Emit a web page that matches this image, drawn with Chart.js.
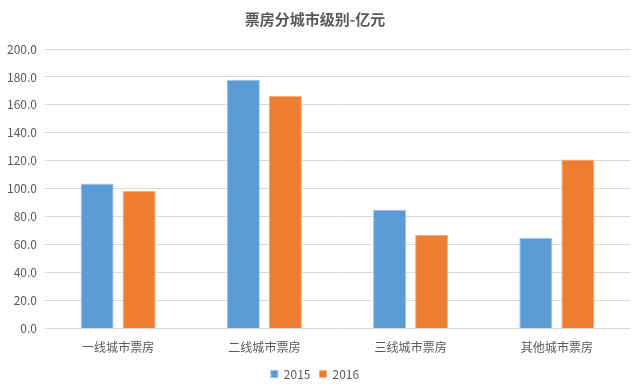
<!DOCTYPE html>
<html><head><meta charset="utf-8">
<script src="https://cdn.jsdelivr.net/npm/chart.js@4"></script>
<style>html,body{margin:0;padding:0;background:#fff}#w{width:640px;height:390px}</style>
</head><body><div id="w"><canvas id="c"></canvas></div>
<script>
const categories = ["一线城市票房", "二线城市票房", "三线城市票房", "其他城市票房"];
const series2015 = [103.8, 178, 85, 65];
const series2016 = [98.5, 166.3, 67, 121];
const seriesNames = ["2015", "2016"];
const yTicks = {min: 0, max: 200, step: 20};
const FONT = "'Noto Sans CJK SC', 'Noto Sans', sans-serif";
Chart.defaults.font.family = FONT;
Chart.defaults.color = '#595959';
new Chart(document.getElementById('c'), {
  type: 'bar',
  data: {
    labels: categories,
    datasets: [
      {label: seriesNames[0], data: series2015, backgroundColor: '#5B9BD5', borderColor: '#9DC3E6', borderWidth: 1, categoryPercentage: 0.575, barPercentage: 0.786},
      {label: seriesNames[1], data: series2016, backgroundColor: '#ED7D31', borderColor: '#F4B183', borderWidth: 1, categoryPercentage: 0.575, barPercentage: 0.786}
    ]
  },
  options: {
    responsive: true, maintainAspectRatio: false, animation: false,
    layout: {padding: {left: 0, right: 10, top: 4, bottom: 0}},
    plugins: {
      title: {display: true, text: '票房分城市级别-亿元', color: '#595959', font: {size: 15, weight: 'bold', family: FONT}, padding: {top: 6, bottom: 21}},
      legend: {position: 'bottom', labels: {boxWidth: 7, boxHeight: 7, color: '#595959', font: {size: 12}, padding: 9}},
      tooltip: {enabled: false}
    },
    scales: {
      x: {grid: {display: false}, border: {display: false}, ticks: {color: '#595959', font: {size: 12}, padding: 4}},
      y: {min: yTicks.min, max: yTicks.max, ticks: {stepSize: yTicks.step, color: '#595959', font: {size: 12}, padding: 8, callback: v => v.toFixed(1)},
          grid: {color: '#D9D9D9', lineWidth: 1, drawTicks: false}, border: {display: false},
          afterFit: s => { s.width = 45; }}
    }
  }
});
</script></body></html>
